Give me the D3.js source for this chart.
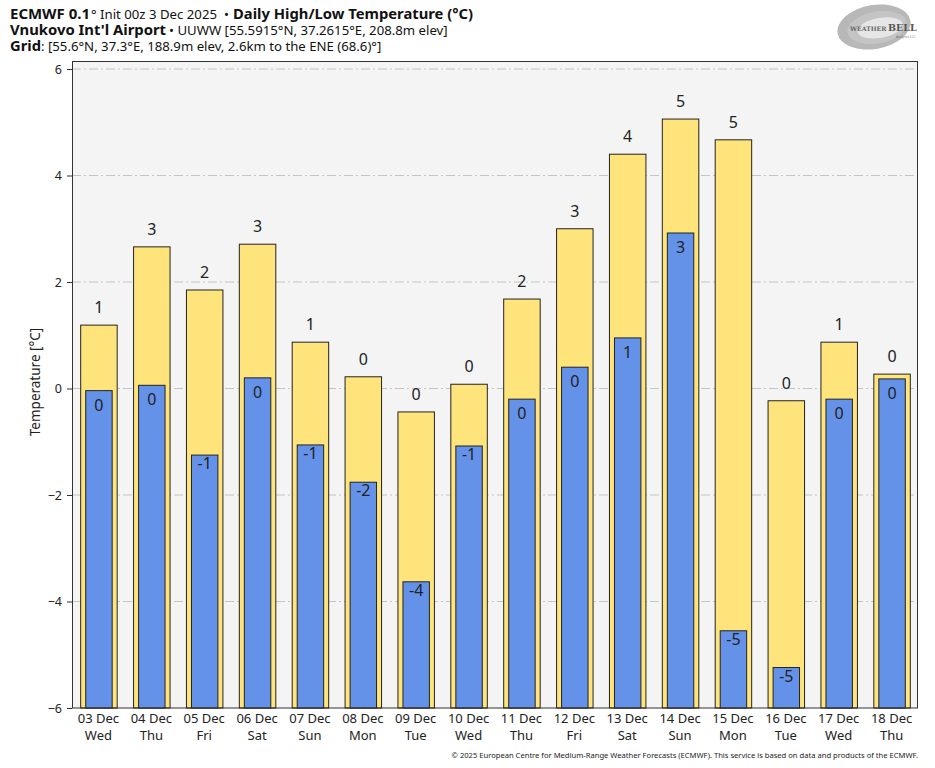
<!DOCTYPE html>
<html>
<head>
<meta charset="utf-8">
<script src="https://cdn.jsdelivr.net/npm/d3@7"></script>
<style>
  html, body { margin: 0; padding: 0; background: #fff; }
  svg { display: block; font-family: "Noto Sans", "Open Sans", sans-serif; }
</style>
</head>
<body>
<svg id="chart" width="935" height="768"></svg>
<script>
// ---- data ----
const dates = ["03 Dec","04 Dec","05 Dec","06 Dec","07 Dec","08 Dec","09 Dec","10 Dec","11 Dec","12 Dec","13 Dec","14 Dec","15 Dec","16 Dec","17 Dec","18 Dec"];
const weekdays = ["Wed","Thu","Fri","Sat","Sun","Mon","Tue","Wed","Thu","Fri","Sat","Sun","Mon","Tue","Wed","Thu"];
const highs = [1.19, 2.66, 1.85, 2.71, 0.87, 0.22, -0.44, 0.08, 1.68, 3.00, 4.40, 5.06, 4.67, -0.23, 0.87, 0.27];
const lows  = [-0.04, 0.06, -1.25, 0.20, -1.06, -1.76, -3.63, -1.08, -0.20, 0.40, 0.95, 2.92, -4.55, -5.24, -0.20, 0.18];
const yTicks = [-6, -4, -2, 0, 2, 4, 6];

const svg = d3.select("#chart");
const margin = {left: 72, right: 17, top: 61, bottom: 60};
const W = 935, H = 768;
const x0 = margin.left, x1 = W - margin.right;
const yBottom = 708;

const x = d3.scaleBand().domain(dates).range([x0, x1]).paddingInner(0).paddingOuter(0);
const y = d3.scaleLinear().domain([-6, 6]).range([yBottom, 69]);
const yTopPx = margin.top;

// plot background
svg.append("rect").attr("x", x0).attr("y", yTopPx).attr("width", x1 - x0).attr("height", yBottom - yTopPx)
  .attr("fill", "#f4f4f4");

// grid
svg.append("g").selectAll("line").data(yTicks.filter(t => t > -6)).join("line")
  .attr("x1", x0).attr("x2", x1).attr("y1", d => y(d)).attr("y2", d => y(d))
  .attr("stroke", "#c4c4c4").attr("stroke-width", 1).attr("stroke-dasharray", "9,3,2,3");

const bw = x.bandwidth();
const hiW = bw * 0.69, loW = bw * 0.5;

// high bars
svg.append("g").selectAll("rect").data(dates).join("rect")
  .attr("x", (d) => x(d) + (bw - hiW) / 2 + 0.5)
  .attr("y", (d, i) => y(highs[i]))
  .attr("width", hiW)
  .attr("height", (d, i) => y(-6) - y(highs[i]))
  .attr("fill", "#ffe47c").attr("stroke", "#222").attr("stroke-width", 1);

// low bars
svg.append("g").selectAll("rect").data(dates).join("rect")
  .attr("x", (d) => x(d) + (bw - loW) / 2 + 0.5)
  .attr("y", (d, i) => y(lows[i]))
  .attr("width", loW)
  .attr("height", (d, i) => y(-6) - y(lows[i]))
  .attr("fill", "#6592e9").attr("stroke", "#222").attr("stroke-width", 1);

const fmt = v => { const r = Math.round(v); return String(r === 0 ? 0 : r); };

// high labels
svg.append("g").selectAll("text").data(dates).join("text")
  .attr("x", d => x(d) + bw / 2 + 0.5)
  .attr("y", (d, i) => y(highs[i]) - 12)
  .attr("text-anchor", "middle").attr("font-size", 16).attr("fill", "#222")
  .text((d, i) => fmt(highs[i]));

// low labels
svg.append("g").selectAll("text").data(dates).join("text")
  .attr("x", d => x(d) + bw / 2 + 0.5)
  .attr("y", (d, i) => y(lows[i]) + (Math.round(lows[i]) < 0 ? 14 : 20))
  .attr("text-anchor", "middle").attr("font-size", 16).attr("fill", "#222")
  .text((d, i) => fmt(lows[i]));

// frame
svg.append("rect").attr("x", x0 + 0.5).attr("y", yTopPx + 0.5).attr("width", x1 - x0 - 1).attr("height", yBottom - yTopPx - 0.5)
  .attr("fill", "none").attr("stroke", "#333").attr("stroke-width", 1);

// y axis
const yAxis = d3.axisLeft(y).tickValues(yTicks).tickSize(5).tickPadding(5).tickFormat(d3.format("d"));
const gy = svg.append("g").attr("transform", `translate(${x0},0)`).call(yAxis);
gy.select(".domain").remove();
gy.selectAll("text").attr("font-size", 12.5).attr("fill", "#222").attr("font-family", "Noto Sans, sans-serif");
gy.selectAll("line").attr("stroke", "#333");

svg.append("text").attr("transform", `translate(40,382) rotate(-90)`)
  .attr("text-anchor", "middle").attr("font-size", 13.5).attr("fill", "#222")
  .text("Temperature [°C]");

// x labels
const gx = svg.append("g");
gx.selectAll("text.d").data(dates).join("text").attr("class", "d")
  .attr("x", d => x(d) + bw / 2).attr("y", 723)
  .attr("text-anchor", "middle").attr("font-size", 13).attr("fill", "#222").text(d => d);
gx.selectAll("text.w").data(dates).join("text").attr("class", "w")
  .attr("x", d => x(d) + bw / 2).attr("y", 740)
  .attr("text-anchor", "middle").attr("font-size", 13).attr("fill", "#222").text((d, i) => weekdays[i]);

// titles
function bold(xp, yp, str, len) {
  svg.append("text").attr("x", xp).attr("y", yp).attr("font-size", 13.5).attr("font-weight", "bold")
    .attr("fill", "#111").attr("textLength", len).attr("lengthAdjust", "spacingAndGlyphs").text(str);
}
function reg(xp, yp, str) {
  svg.append("text").attr("x", xp).attr("y", yp).attr("font-size", 13.2).attr("fill", "#111").text(str);
}
bold(10, 19, "ECMWF 0.1", 80);
reg(91, 19, "° Init 00z 3 Dec 2025");
reg(224, 19, "•");
bold(233, 19, "Daily High/Low Temperature (°C)", 240);
bold(10, 35, "Vnukovo Int'l Airport", 156);
reg(169, 35, "• UUWW [55.5915°N, 37.2615°E, 208.8m elev]");
bold(10, 51, "Grid", 31);
reg(41, 51, ": [55.6°N, 37.3°E, 188.9m elev, 2.6km to the ENE (68.6)°]");

// footer
svg.append("text").attr("x", 918).attr("y", 758).attr("text-anchor", "end").attr("font-size", 7.6).attr("fill", "#222")
  .text("© 2025 European Centre for Medium-Range Weather Forecasts (ECMWF). This service is based on data and products of the ECMWF.");

// logo
const lg = svg.append("g").attr("transform", "translate(874,27)");
lg.append("ellipse").attr("rx", 37).attr("ry", 22).attr("fill", "#9a9a9a").attr("opacity", 0.7).attr("transform", "rotate(-10)");
lg.append("ellipse").attr("cx", 3).attr("cy", 1).attr("rx", 30).attr("ry", 16).attr("fill", "#c4c4c4").attr("transform", "rotate(-10)");
lg.append("ellipse").attr("cx", 6).attr("cy", 2).attr("rx", 23).attr("ry", 10).attr("fill", "#e6e6e6").attr("transform", "rotate(-10)");
lg.append("text").attr("x", -24).attr("y", 4).attr("font-size", 6.2).attr("font-family", "DejaVu Serif, serif").attr("font-weight", "bold").attr("fill", "#666").text("WEATHER");
lg.append("text").attr("x", 14).attr("y", 4).attr("font-size", 9.5).attr("font-family", "DejaVu Serif, serif").attr("font-weight", "bold").attr("fill", "#555").text("BELL");
lg.append("text").attr("x", 22).attr("y", 10.5).attr("font-size", 3.2).attr("fill", "#777").text("Analytics LLC");
</script>
</body>
</html>
